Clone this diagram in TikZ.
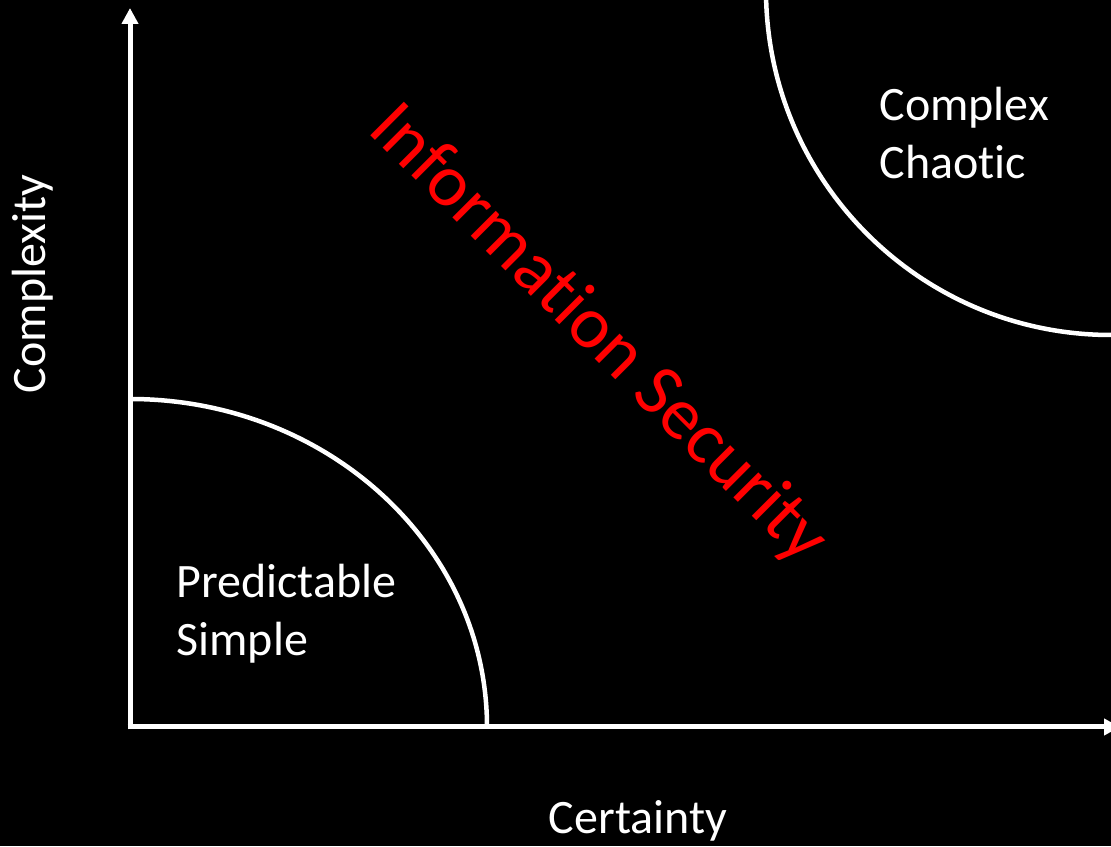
\documentclass[tikz,border=0pt]{standalone}
\usepackage{fontspec}
\setmainfont{Carlito}[Ligatures=NoCommon]
\usetikzlibrary{arrows.meta}
\begin{document}
\begin{tikzpicture}[x=1pt,y=1pt,
  axis/.style={line width=5pt,white,-{Triangle[width=16pt,length=16pt]}},
  zone/.style={line width=4.5pt,white},
  lbl/.style={white,font=\fontsize{48}{58}\selectfont,align=left}]
\fill[black] (0,0) rectangle (1111,846);
\useasboundingbox (0,0) rectangle (1111,846);
\clip (0,0) rectangle (1111,846);
% axes
\coordinate (O) at (130,119);
\coordinate (ytop) at (130,838);
\coordinate (xend) at (1120,119);
\draw[axis] ([yshift=-2.5pt]O)--(ytop);
\draw[axis] ([xshift=-2.5pt]O)--(xend);
% the two regions
\draw[zone] (130,447) arc (90:0:357 and 328);
\draw[zone] (766,856) arc (180:270:345);
\node[lbl,rotate=90] (cplx) at (33,562) {Complexity};
\node[lbl] (cert) at (638,25) {Certainty};
\node[lbl,anchor=west] (simple) at (173,232) {Predictable\\Simple};
\node[lbl,anchor=west] (chaos) at (876,713) {Complex\\Chaotic};
\node[red,font=\fontsize{74}{88}\selectfont,rotate=-45] (infosec) at (598,511) {Information Security};
\end{tikzpicture}
\end{document}
